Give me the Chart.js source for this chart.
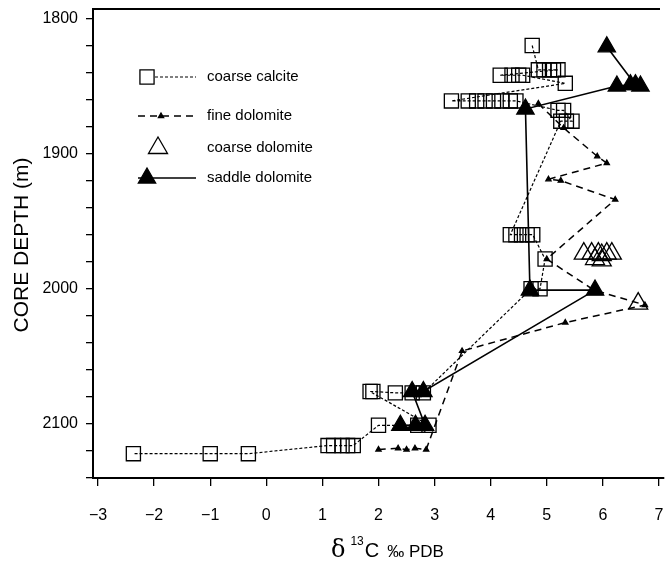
<!DOCTYPE html>
<html>
<head>
<meta charset="utf-8">
<title>Carbon isotopes vs core depth</title>
<script src="https://cdn.jsdelivr.net/npm/chart.js@4.4.1/dist/chart.umd.min.js"></script>
<style>
  html, body { margin: 0; padding: 0; background: #fff; }
  #wrap { width: 665px; height: 564px; }
</style>
</head>
<body>
<div id="wrap"><canvas id="isoChart"></canvas></div>
<script>
// axis ticks
const xTicks = [-3, -2, -1, 0, 1, 2, 3, 4, 5, 6, 7];
const depthTicks = [1800, 1820, 1840, 1860, 1880, 1900, 1920, 1940, 1960, 1980,
                    2000, 2020, 2040, 2060, 2080, 2100, 2120, 2140];
const depthLabels = [1800, 1900, 2000, 2100];

// coarse calcite (samples in depth order)
const calciteC13 = [4.74, 4.85, 4.95, 5.05, 5.12, 5.2, 4.17, 4.38, 4.5, 4.57, 5.33,
                    3.3, 3.6, 3.75, 3.9, 4.05, 4.2, 4.35, 4.45, 5.2, 5.3, 5.45, 5.35, 5.25,
                    4.35, 4.45, 4.55, 4.65, 4.75, 4.97, 4.88, 4.72,
                    2.8, 2.6, 2.3, 1.9, 1.85, 2.9, 2.7, 2.0,
                    1.55, 1.45, 1.35, 1.2, 1.1, -0.32, -1.0, -2.37];
const calciteDepth = [1820, 1838, 1838, 1838, 1838, 1838, 1842, 1842, 1842, 1842, 1848,
                      1861, 1861, 1861, 1861, 1861, 1861, 1861, 1861, 1868, 1868, 1876, 1876, 1876,
                      1960, 1960, 1960, 1960, 1960, 1978, 2000, 2000,
                      2077, 2077, 2077, 2076, 2076, 2101, 2101, 2101,
                      2116, 2116, 2116, 2116, 2116, 2122, 2122, 2122];

// fine dolomite
const fineC13 = [4.85, 5.3, 5.9, 6.07, 5.03, 5.25, 6.22, 5.0, 5.84, 6.75, 5.33, 3.49,
                 2.85, 2.65, 2.5, 2.35, 2.0];
const fineDepth = [1863, 1881, 1902, 1907, 1919, 1920, 1934, 1978, 2001, 2012, 2025, 2046,
                   2119, 2118, 2119, 2118, 2119];

// coarse dolomite
const coarseDolC13 = [5.66, 5.8, 5.92, 5.98, 6.07, 6.16, 5.86, 5.98, 6.63];
const coarseDolDepth = [1974, 1974, 1974, 1975, 1974, 1974, 1978, 1979, 2011];

// saddle dolomite
const saddleC13 = [6.07, 6.58, 6.67, 6.49, 6.25, 4.62, 4.7, 5.86, 2.8, 2.6, 2.83, 2.66, 2.39];
const saddleDepth = [1821, 1849, 1850, 1849, 1850, 1867, 2001, 2001, 2076, 2076, 2101, 2101, 2101];

const legendLabels = ['coarse calcite', 'fine dolomite', 'coarse dolomite', 'saddle dolomite'];

function pairs(xs, ys) {
  return xs.map((v, i) => ({ x: v, y: ys[i] }));
}

const styles = [
  { pointStyle: 'rect', radius: 10, fill: false, dash: [3, 2], lineWidth: 1.2, showLine: true },
  { pointStyle: 'triangle', radius: 3, fill: true, dash: [7, 5], lineWidth: 1.5, showLine: true },
  { pointStyle: 'triangle', radius: 11, fill: false, dash: [], lineWidth: 0, showLine: false },
  { pointStyle: 'triangle', radius: 10, fill: true, dash: [], lineWidth: 1.6, showLine: true }
];

function makeSet(label, xs, ys, st, order) {
  return {
    label: label,
    data: pairs(xs, ys),
    showLine: st.showLine,
    borderColor: '#000',
    borderWidth: st.lineWidth,
    borderDash: st.dash,
    backgroundColor: '#000',
    pointStyle: st.pointStyle,
    pointRadius: st.radius,
    pointHoverRadius: st.radius,
    pointBorderColor: '#000',
    pointBorderWidth: 1.3,
    pointBackgroundColor: st.fill ? '#000' : 'rgba(0,0,0,0)',
    clip: false,
    order: order
  };
}

// legend drawn inside the plot, with line samples
const insideLegend = {
  id: 'insideLegend',
  afterDraw(chart) {
    const ctx = chart.ctx;
    const rows = [77, 116, 148, 178];
    const markerX = [147, 161, 158, 147];
    ctx.save();
    legendLabels.forEach((text, i) => {
      const st = styles[i];
      const y = rows[i];
      if (st.showLine) {
        ctx.beginPath();
        ctx.setLineDash(st.dash);
        ctx.lineWidth = st.lineWidth;
        ctx.strokeStyle = '#000';
        ctx.moveTo(i === 0 ? 155 : 138, y);
        ctx.lineTo(196, y);
        ctx.stroke();
        ctx.setLineDash([]);
      }
      ctx.fillStyle = st.fill ? '#000' : '#fff';
      ctx.strokeStyle = '#000';
      ctx.lineWidth = 1.3;
      Chart.helpers.drawPoint(ctx, { pointStyle: st.pointStyle, radius: st.radius, borderWidth: 1.3 }, markerX[i], y);
      ctx.fillStyle = '#000';
      ctx.font = '15px "Liberation Sans", Arial, sans-serif';
      ctx.textAlign = 'left';
      ctx.textBaseline = 'middle';
      ctx.fillText(text, 207, y);
    });
    ctx.restore();
  }
};

// top frame line and axis titles
const frameAndTitles = {
  id: 'frameAndTitles',
  afterDraw(chart) {
    const ctx = chart.ctx;
    const a = chart.chartArea;
    ctx.save();
    ctx.strokeStyle = '#000';
    ctx.lineWidth = 2;
    ctx.beginPath();
    ctx.moveTo(a.left, a.top);
    ctx.lineTo(a.right - 4, a.top);
    ctx.stroke();

    ctx.fillStyle = '#000';
    ctx.textBaseline = 'alphabetic';
    ctx.textAlign = 'left';
    let x = 331;
    const base = 557;
    ctx.font = '24px "DejaVu Serif", "Liberation Serif", serif';
    ctx.fillText('\u03b4', x, base);
    x += ctx.measureText('\u03b4').width + 5;
    ctx.font = '12px "Liberation Sans", Arial, sans-serif';
    ctx.fillText('13', x, base - 12);
    x += ctx.measureText('13').width + 1;
    ctx.font = '20px "Liberation Sans", Arial, sans-serif';
    ctx.fillText('C', x, base);
    x += ctx.measureText('C').width + 8;
    ctx.font = '17px "Liberation Sans", Arial, sans-serif';
    ctx.fillText('\u2030 PDB', x, base);

    ctx.translate(22, 245);
    ctx.rotate(-Math.PI / 2);
    ctx.textAlign = 'center';
    ctx.textBaseline = 'middle';
    ctx.font = '21px "Liberation Sans", Arial, sans-serif';
    ctx.fillText('CORE DEPTH (m)', 0, 0);
    ctx.restore();
  }
};

const ctx = document.getElementById('isoChart').getContext('2d');
const isoChart = new Chart(ctx, {
  type: 'scatter',
  data: {
    datasets: [
      makeSet(legendLabels[0], calciteC13, calciteDepth, styles[0], 4),
      makeSet(legendLabels[1], fineC13, fineDepth, styles[1], 3),
      makeSet(legendLabels[2], coarseDolC13, coarseDolDepth, styles[2], 2),
      makeSet(legendLabels[3], saddleC13, saddleDepth, styles[3], 1)
    ]
  },
  options: {
    responsive: true,
    maintainAspectRatio: false,
    animation: false,
    layout: { autoPadding: false, padding: { top: 9, right: 1, left: 0, bottom: 0 } },
    plugins: {
      legend: { display: false },
      tooltip: { enabled: false }
    },
    scales: {
      x: {
        type: 'linear',
        position: 'bottom',
        min: -3.09,
        max: 7.09,
        afterBuildTicks: s => { s.ticks = xTicks.map(v => ({ value: v })); },
        afterFit: s => { s.height = 86; s.paddingLeft = 0; s.paddingRight = 0; },
        ticks: {
          autoSkip: false,
          maxRotation: 0,
          padding: 20,
          color: '#000',
          font: { family: '"Liberation Sans", Arial, sans-serif', size: 16 },
          callback: v => (v < 0 ? '\u2212' + Math.abs(v) : String(v))
        },
        grid: { drawOnChartArea: false, drawTicks: true, tickLength: 8, color: '#000', lineWidth: 1.3 },
        border: { display: true, color: '#000', width: 2 }
      },
      y: {
        type: 'linear',
        reverse: true,
        min: 1793,
        max: 2140,
        afterBuildTicks: s => { s.ticks = depthTicks.map(v => ({ value: v })); },
        afterFit: s => { s.width = 93; s.paddingTop = 0; s.paddingBottom = 0; },
        ticks: {
          autoSkip: false,
          padding: 8,
          color: '#000',
          font: { family: '"Liberation Sans", Arial, sans-serif', size: 16 },
          callback: v => (depthLabels.includes(v) ? String(v) : '')
        },
        grid: { drawOnChartArea: false, drawTicks: true, tickLength: 7, color: '#000', lineWidth: 1.3 },
        border: { display: true, color: '#000', width: 2 }
      }
    }
  },
  plugins: [insideLegend, frameAndTitles]
});
</script>
</body>
</html>
